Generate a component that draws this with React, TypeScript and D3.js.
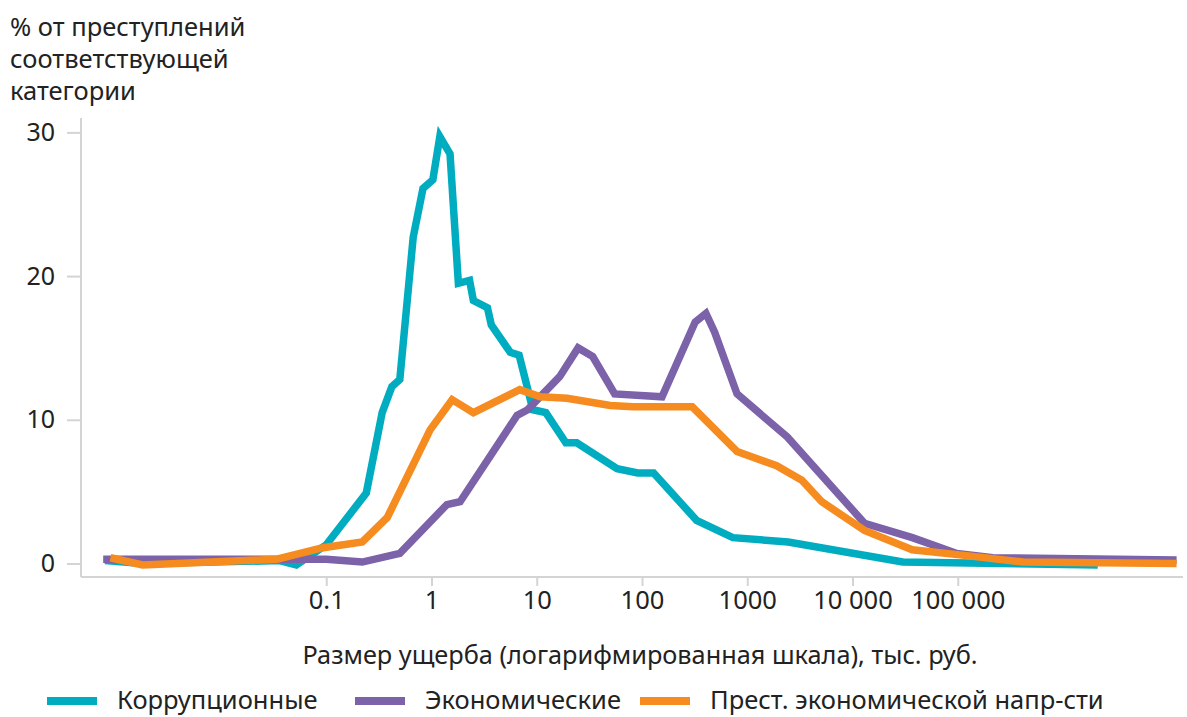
import React, { useEffect, useRef } from 'react';
import * as d3 from 'd3';

// damage size, thousand rubles (x) and % of crimes in category (y)
const corruptX = [0.00079, 0.0018, 0.036, 0.052, 0.1, 0.24, 0.34, 0.42, 0.5, 0.67, 0.83, 1.03, 1.2, 1.5, 1.8, 2.3, 2.5, 3.4, 3.7, 5.6, 6.8, 9.2, 12.2, 18.9, 24, 58, 91, 129, 330, 730, 2450, 30000, 2140000];
const corruptY = [0.2, 0.0, 0.2, -0.1, 1.3, 4.9, 10.5, 12.3, 12.8, 22.7, 26.1, 26.7, 29.7, 28.5, 19.5, 19.7, 18.3, 17.8, 16.6, 14.7, 14.5, 10.7, 10.5, 8.4, 8.4, 6.6, 6.3, 6.3, 3.0, 1.8, 1.5, 0.1, -0.1];

const econX = [0.00076, 0.1, 0.22, 0.5, 1.4, 1.87, 6.5, 8.2, 16.5, 24.7, 34, 55, 155, 320, 405, 490, 800, 2400, 13000, 37000, 98000, 215000, 12000000];
const econY = [0.3, 0.3, 0.1, 0.7, 4.1, 4.3, 10.3, 10.7, 13.0, 15.0, 14.4, 11.8, 11.6, 16.8, 17.4, 16.1, 11.8, 8.8, 2.8, 1.8, 0.7, 0.4, 0.25];

const businessX = [0.00089, 0.0018, 0.034, 0.093, 0.22, 0.38, 0.97, 1.57, 2.5, 6.9, 10.8, 19.4, 50, 82, 300, 800, 1900, 3300, 5100, 13000, 37000, 105000, 417000, 12000000];
const businessY = [0.4, -0.1, 0.3, 1.1, 1.5, 3.2, 9.3, 11.4, 10.5, 12.1, 11.6, 11.5, 11.0, 10.9, 10.9, 7.8, 6.8, 5.8, 4.3, 2.3, 0.95, 0.6, 0.1, 0.0];

const seriesNames = ['Коррупционные', 'Экономические', 'Прест. экономической напр-сти'];
const seriesColors = ['#00acbf', '#7b62a9', '#f68b1f'];

const xTicks = [0.1, 1, 10, 100, 1000, 10000, 100000];
const xTickLabels = ['0.1', '1', '10', '100', '1000', '10 000', '100 000'];
const yTicks = [0, 10, 20, 30];

const yTitle = ['% от преступлений', 'соответствующей', 'категории'];
const xTitle = 'Размер ущерба (логарифмированная шкала), тыс. руб.';

export default function App() {
  const svgRef = useRef<SVGSVGElement>(null);

  useEffect(() => {
    if (!svgRef.current) return;
    const svg = d3.select(svgRef.current);
    svg.selectAll('*').remove();

    const width = 1187;
    const height = 717;
    const font = '"Noto Sans", "Open Sans", sans-serif';
    svg.attr('width', width).attr('height', height);

    const x = d3.scaleLog()
      .domain([Math.pow(10, -3.33), Math.pow(10, 7.14)])
      .range([81, 1183]);

    const y = d3.scaleLinear()
      .domain([-0.94, 31])
      .range([577, 118]);

    const axisColor = '#d4d4d4';

    // Y axis
    const gy = svg.append('g').attr('transform', 'translate(81,0)')
      .call(d3.axisLeft(y).tickValues(yTicks).tickSize(14).tickPadding(12).tickFormat(d3.format('d')));
    gy.select('.domain').attr('stroke', axisColor).attr('stroke-width', 2).attr('d', `M0,${y.range()[1]}V${y.range()[0]}`);
    gy.selectAll('.tick line').attr('stroke', axisColor).attr('stroke-width', 2);
    gy.selectAll('.tick text').attr('fill', '#222').style('font-family', font).style('font-size', '25px');

    // X axis
    const gx = svg.append('g').attr('transform', 'translate(0,577)')
      .call(d3.axisBottom(x).tickValues(xTicks).tickSize(9).tickPadding(5)
        .tickFormat((d, i) => xTickLabels[i]));
    gx.select('.domain').attr('stroke', axisColor).attr('stroke-width', 2).attr('d', `M${x.range()[0]},0H${x.range()[1]}`);
    gx.selectAll('.tick line').attr('stroke', axisColor).attr('stroke-width', 2);
    gx.selectAll('.tick text').attr('fill', '#222').style('font-family', font).style('font-size', '25.5px');

    // Lines
    const series = [
      { xs: corruptX, ys: corruptY },
      { xs: econX, ys: econY },
      { xs: businessX, ys: businessY },
    ];
    const line = d3.line<[number, number]>()
      .x(d => x(d[0]))
      .y(d => y(d[1]));

    series.forEach((s, i) => {
      const pts: [number, number][] = s.xs.map((v, j) => [v, s.ys[j]]);
      svg.append('path')
        .datum(pts)
        .attr('fill', 'none')
        .attr('stroke', seriesColors[i])
        .attr('stroke-width', 7.5)
        .attr('stroke-linejoin', 'miter')
        .attr('d', line);
    });

    // Y title
    svg.append('text')
      .attr('x', 10)
      .attr('y', 36)
      .attr('fill', '#222')
      .style('font-family', font)
      .style('font-size', '25.5px')
      .selectAll('tspan')
      .data(yTitle)
      .enter()
      .append('tspan')
      .attr('x', 10)
      .attr('dy', (d, i) => (i === 0 ? 0 : 32))
      .text(d => d);

    // X title
    svg.append('text')
      .attr('x', 640)
      .attr('y', 664)
      .attr('text-anchor', 'middle')
      .attr('fill', '#222')
      .style('font-family', font)
      .style('font-size', '25.3px')
      .text(xTitle);

    // Legend
    const legendX = [47, 355, 640];
    const lg = svg.append('g');
    seriesNames.forEach((name, i) => {
      lg.append('rect')
        .attr('x', legendX[i])
        .attr('y', 697)
        .attr('width', 50)
        .attr('height', 8)
        .attr('fill', seriesColors[i]);
      lg.append('text')
        .attr('x', legendX[i] + 70)
        .attr('y', 709)
        .attr('fill', '#222')
        .style('font-family', font)
        .style('font-size', '25.5px')
        .text(name);
    });
  }, []);

  return (
    <svg ref={svgRef} style={{ position: 'absolute', left: 0, top: 0, display: 'block', background: '#fff' }} />
  );
}
